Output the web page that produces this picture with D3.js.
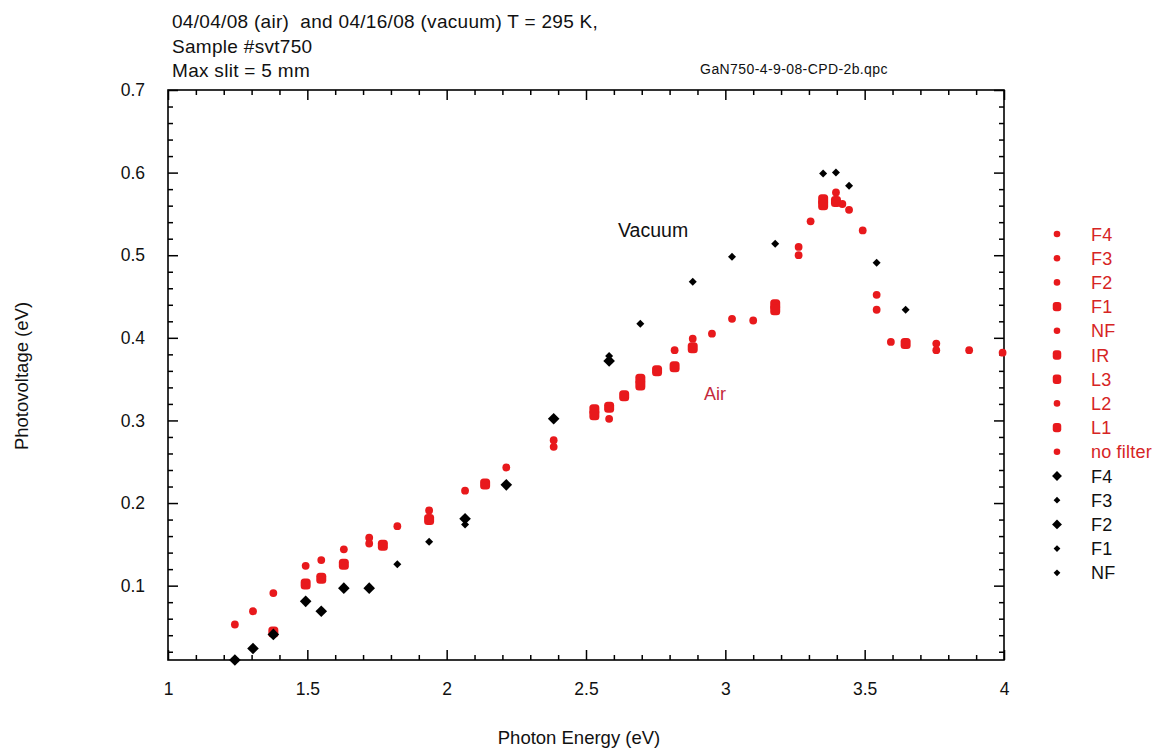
<!DOCTYPE html>
<html>
<head>
<meta charset="utf-8">
<script src="https://cdn.jsdelivr.net/npm/d3@7"></script>
<style>
  html, body { margin: 0; padding: 0; background: #fff; }
  svg text { font-family: Arial, "Liberation Sans", sans-serif; white-space: pre; }
</style>
</head>
<body>
<svg id="chart" width="1157" height="748"></svg>
<script>
// Air measurements (04/04/08), one array per filter
const airF4 = [[1.24, 0.053], [1.305, 0.069], [1.378, 0.091]];
const airF3 = [[1.494, 0.124], [1.55, 0.131], [1.631, 0.144]];
const airF2 = [[1.722, 0.158], [1.722, 0.151], [1.823, 0.172], [1.937, 0.191], [2.066, 0.215], [2.214, 0.243]];
const airF1 = [[1.378, 0.044], [1.494, 0.102], [1.55, 0.109], [1.631, 0.126], [1.771, 0.149], [1.937, 0.180], [2.138, 0.223]];
const airNF = [[2.384, 0.276], [2.384, 0.268], [2.583, 0.302], [2.818, 0.385], [2.883, 0.399], [2.952, 0.405], [3.024, 0.423], [3.1, 0.421]];
const airIR = [[2.53, 0.313], [2.53, 0.307], [2.583, 0.316], [2.637, 0.330]];
const airL3 = [[2.695, 0.350], [2.695, 0.343], [2.755, 0.360], [2.818, 0.365], [2.883, 0.388]];
const airL2 = [[3.263, 0.510], [3.263, 0.500], [3.306, 0.541], [3.397, 0.576], [3.42, 0.562], [3.444, 0.555], [3.493, 0.530]];
const airL1 = [[3.179, 0.440], [3.179, 0.434], [3.351, 0.567], [3.351, 0.561], [3.397, 0.565], [3.647, 0.393]];
const airNoFilter = [[3.543, 0.452], [3.543, 0.434], [3.594, 0.395], [3.757, 0.393], [3.757, 0.385], [3.875, 0.385], [3.995, 0.382]];

// Vacuum measurements (04/16/08)
const vacF4 = [[1.24, 0.010], [1.305, 0.024], [1.378, 0.041], [1.494, 0.081], [1.55, 0.069]];
const vacF3 = [[1.823, 0.126], [1.937, 0.153], [2.066, 0.174]];
const vacF2 = [[1.631, 0.097], [1.722, 0.097], [2.066, 0.181], [2.214, 0.222], [2.384, 0.302], [2.583, 0.372]];
const vacF1 = [[2.583, 0.378], [2.695, 0.417], [2.883, 0.468], [3.024, 0.498]];
const vacNF = [[3.179, 0.514], [3.351, 0.599], [3.397, 0.600], [3.444, 0.584], [3.543, 0.491], [3.647, 0.434]];

const xTicks = [1, 1.5, 2, 2.5, 3, 3.5, 4];
const yTicks = [0.1, 0.2, 0.3, 0.4, 0.5, 0.6, 0.7];
const titleLines = ["04/04/08 (air)  and 04/16/08 (vacuum) T = 295 K,", "Sample #svt750", "Max slit = 5 mm"];
const fileName = "GaN750-4-9-08-CPD-2b.qpc";

const RED = "#e8191c";
const RED_TEXT = "#d62424";
const FONT = 18;

// legend order matches the reference (air first, then vacuum)
const series = [
  { name: "F4", data: airF4, air: true, big: false },
  { name: "F3", data: airF3, air: true, big: false },
  { name: "F2", data: airF2, air: true, big: false },
  { name: "F1", data: airF1, air: true, big: true },
  { name: "NF", data: airNF, air: true, big: false },
  { name: "IR", data: airIR, air: true, big: true },
  { name: "L3", data: airL3, air: true, big: true },
  { name: "L2", data: airL2, air: true, big: false },
  { name: "L1", data: airL1, air: true, big: true },
  { name: "no filter", data: airNoFilter, air: true, big: false },
  { name: "F4", data: vacF4, air: false, big: true },
  { name: "F3", data: vacF3, air: false, big: false },
  { name: "F2", data: vacF2, air: false, big: true },
  { name: "F1", data: vacF1, air: false, big: false },
  { name: "NF", data: vacNF, air: false, big: false }
];

const svg = d3.select("#chart");
const margin = { top: 90, right: 153, bottom: 88, left: 168 };
const width = 1157, height = 748;
const x0 = margin.left, x1 = width - margin.right;
const y0 = margin.top, y1 = height - margin.bottom;

const x = d3.scaleLinear().domain([1, 4]).range([x0, x1]);
const y = d3.scaleLinear().domain([0.01, 0.7]).range([y1, y0]);

svg.append("rect").attr("width", width).attr("height", height).attr("fill", "#fff");

// title block
svg.selectAll("text.title")
  .data(titleLines)
  .join("text")
  .attr("class", "title")
  .attr("x", 172)
  .attr("y", (d, i) => 28 + i * 24.6)
  .attr("font-size", 19)
  .attr("letter-spacing", 0.3)
  .attr("fill", "#111")
  .text(d => d);

svg.append("text")
  .attr("x", 794).attr("y", 74)
  .attr("text-anchor", "middle")
  .attr("font-size", 14)
  .attr("letter-spacing", 0.4)
  .attr("fill", "#111")
  .text(fileName);

// minor tick helpers
const xMinor = d3.range(10, 41).map(i => i / 10).filter(v => !xTicks.includes(v));
const yMinor = d3.range(1, 36).map(i => i / 50).filter(v => v >= 0.01 && !yTicks.some(t => Math.abs(t - v) < 1e-9));

function addAxis(axisFn, scale, pos, ticks, size, labels, pad) {
  const a = axisFn(scale).tickValues(ticks).tickSizeInner(size).tickSizeOuter(0).tickPadding(pad || 0);
  a.tickFormat(labels ? labels : () => "");
  const g = svg.append("g").attr("transform", pos).call(a);
  g.select(".domain").remove();
  g.selectAll(".tick line").attr("stroke", "#000").attr("stroke-width", 1.5);
  g.selectAll(".tick text").attr("fill", "#111").attr("font-size", 17.5).attr("font-family", "Arial, 'Liberation Sans', sans-serif");
  return g;
}

addAxis(d3.axisBottom, x, `translate(0,${y1})`, xTicks, -10, d3.format("~g"), 23);
addAxis(d3.axisBottom, x, `translate(0,${y1})`, xMinor, -5);
addAxis(d3.axisTop, x, `translate(0,${y0})`, xTicks, -10);
addAxis(d3.axisTop, x, `translate(0,${y0})`, xMinor, -5);
addAxis(d3.axisLeft, y, `translate(${x0},0)`, yTicks, -10, d3.format(".1f"), 23);
addAxis(d3.axisLeft, y, `translate(${x0},0)`, yMinor, -5);
addAxis(d3.axisRight, y, `translate(${x1},0)`, yTicks, -10);
addAxis(d3.axisRight, y, `translate(${x1},0)`, yMinor, -5);

svg.append("rect")
  .attr("x", x0).attr("y", y0)
  .attr("width", x1 - x0).attr("height", y1 - y0)
  .attr("fill", "none").attr("stroke", "#000").attr("stroke-width", 1.6);

// axis titles
svg.append("text")
  .attr("x", 579).attr("y", 744)
  .attr("text-anchor", "middle").attr("font-size", 18.5).attr("fill", "#111")
  .text("Photon Energy (eV)");

svg.append("text")
  .attr("transform", `translate(27.5,376) rotate(-90)`)
  .attr("text-anchor", "middle").attr("font-size", 18.5)
  .attr("fill", "#111")
  .text("Photovoltage (eV)");

// markers
const diamond = s => `M0,${-s}L${s},0L0,${s}L${-s},0Z`;

function drawMarker(g, s, scale) {
  const k = scale || 1;
  if (s.air) {
    if (s.big) {
      g.append("rect").attr("x", -5 * k).attr("y", -5.5 * k).attr("width", 10 * k).attr("height", 11 * k)
        .attr("rx", 3.5 * k).attr("fill", RED);
    } else {
      g.append("circle").attr("r", 3.9 * k).attr("fill", RED);
    }
  } else {
    g.append("path").attr("d", diamond((s.big ? 5.8 : 4) * k)).attr("fill", "#000");
  }
}

// air first, vacuum over it
const ordered = series.filter(s => s.air).concat(series.filter(s => !s.air));
ordered.forEach(s => {
  svg.append("g").selectAll("g")
    .data(s.data)
    .join("g")
    .attr("transform", d => `translate(${x(d[0])},${y(d[1])})`)
    .each(function () { drawMarker(d3.select(this), s); });
});

// in-plot labels
svg.append("text").attr("x", x(2.615)).attr("y", y(0.522))
  .attr("font-size", 19.5).attr("fill", "#111").text("Vacuum");
svg.append("text").attr("x", x(2.923)).attr("y", y(0.3247))
  .attr("font-size", FONT).attr("fill", "#c42a3c").text("Air");

// legend
const legend = svg.append("g");
series.forEach((s, i) => {
  const ly = 234 + i * 24.2;
  const g = legend.append("g").attr("transform", `translate(1057,${ly})`);
  drawMarker(g, s, 0.85);
  legend.append("text")
    .attr("x", 1091).attr("y", ly + 6.5)
    .attr("font-size", FONT)
    .attr("letter-spacing", 0.2)
    .attr("fill", s.air ? RED_TEXT : "#111")
    .text(s.name);
});
</script>
</body>
</html>
